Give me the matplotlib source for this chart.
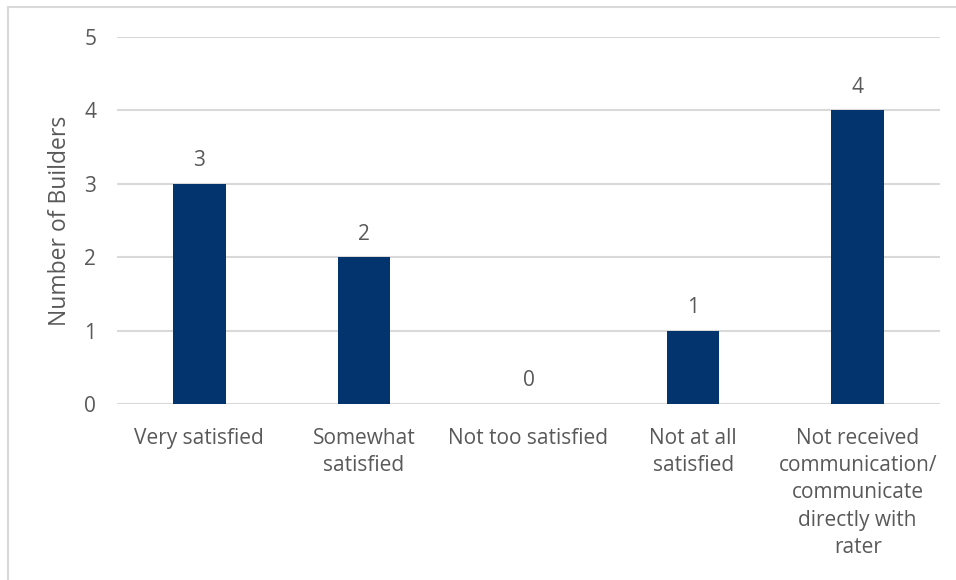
import matplotlib.pyplot as plt
from matplotlib.lines import Line2D

categories = ['Very satisfied', 'Somewhat\nsatisfied', 'Not too satisfied',
              'Not at all\nsatisfied',
              'Not received\ncommunication/\ncommunicate\ndirectly with\nrater']
counts = [3, 2, 0, 1, 4]
y_ticks = [0, 1, 2, 3, 4, 5]

bar_color = '#03346E'
text_color = '#595959'
grid_color = '#D9D9D9'

plt.rcParams['font.family'] = ['Open Sans', 'DejaVu Sans']

fig = plt.figure(figsize=(9.56, 5.80), dpi=100)
ax = fig.add_axes([117 / 956, 1 - 404 / 580, (940 - 117) / 956, (404 - 37) / 580])

x = range(len(categories))
bars = ax.bar(x, counts, width=0.32, color=bar_color, zorder=3)

# étiquettes de valeur au-dessus des barres
for xi, v in zip(x, counts):
    ax.annotate(str(v), (xi, v), xytext=(0, 9), textcoords='offset points',
                ha='center', va='bottom', fontsize=15, color=text_color)

ax.set_xlim(-0.5, len(categories) - 0.5)
ax.set_ylim(0, 5)
ax.set_yticks(y_ticks)
ax.set_xticks(list(x))
ax.set_xticklabels(categories, linespacing=1.4)
ax.tick_params(axis='both', length=0, labelsize=15, colors=text_color)
ax.tick_params(axis='x', pad=17)
ax.tick_params(axis='y', pad=15)
ax.yaxis.grid(True, color=grid_color, linewidth=1.5)
ax.set_axisbelow(True)
for s in ax.spines.values():
    s.set_visible(False)

ax.set_ylabel('Number of Builders', fontsize=16.5, color=text_color, labelpad=9)

# bordure de la zone du graphique
fig.add_artist(Line2D([8 / 956, 8 / 956], [0, 1 - 7 / 580], transform=fig.transFigure,
                      color=grid_color, linewidth=1.5))
fig.add_artist(Line2D([8 / 956, 1], [1 - 7 / 580, 1 - 7 / 580], transform=fig.transFigure,
                      color=grid_color, linewidth=1.5))

fig.savefig('out.png', dpi=100)
